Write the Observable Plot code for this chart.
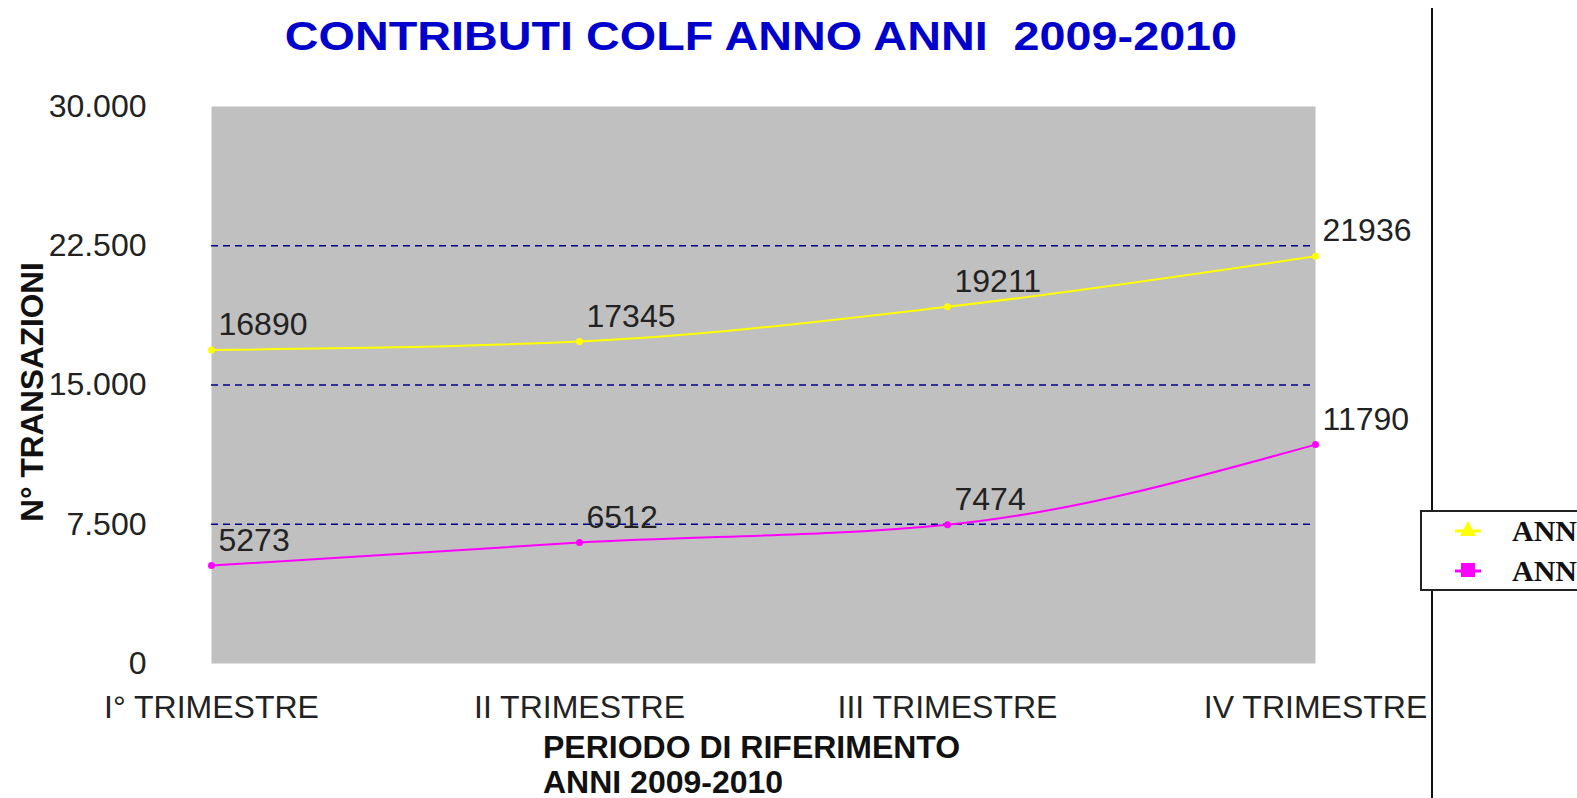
<!DOCTYPE html>
<html><head><meta charset="utf-8">
<script src="https://cdn.jsdelivr.net/npm/d3@7"></script>
<script src="https://cdn.jsdelivr.net/npm/@observablehq/plot@0.6"></script>
<style>
html,body{margin:0;padding:0;background:#fff;}
body{width:1577px;height:798px;overflow:hidden;position:relative;font-family:"Liberation Sans",Arial,sans-serif;}
#chart{position:absolute;left:0;top:0;}
#title{position:absolute;left:0;width:1522px;top:16px;text-align:center;font-weight:bold;font-size:41px;line-height:1;color:#0000cc;white-space:pre;transform:scaleX(1.14);transform-origin:761px 0;}
#ylabel{position:absolute;left:33px;top:392px;transform:translate(-50%,-50%) rotate(-90deg);font-weight:bold;font-size:31.5px;line-height:1;color:#111;white-space:nowrap;}
#xlabel{position:absolute;left:543px;top:730px;font-weight:bold;font-size:32px;line-height:35px;color:#111;}
#vline1{position:absolute;left:1431px;top:8px;width:2px;height:503px;background:#111;}
#vline2{position:absolute;left:1431px;top:590px;width:2px;height:210px;background:#111;}
#legend{position:absolute;left:1420px;top:510px;width:300px;height:77px;border:2px solid #222;background:#fff;}
.li{position:absolute;left:90px;font-family:"Liberation Serif","Times New Roman",serif;font-weight:bold;font-size:30px;line-height:1;color:#111;white-space:nowrap;}
</style></head><body>
<div id="chart"></div>
<div id="title"></div>
<div id="ylabel"></div>
<div id="xlabel"></div>
<div id="vline1"></div><div id="vline2"></div>
<div id="legend"></div>
<script>
const titleText = "CONTRIBUTI COLF ANNO ANNI  2009-2010";
const yTitle = "N° TRANSAZIONI";
const xTitleLines = ["PERIODO DI RIFERIMENTO", "ANNI 2009-2010"];
const periods = ["I° TRIMESTRE", "II TRIMESTRE", "III TRIMESTRE", "IV TRIMESTRE"];
const seriesNames = ["ANNO 2010", "ANNO 2009"];
const seriesColors = ["#ffff00", "#ff00ff"];
const valuesA = [16890, 17345, 19211, 21936];
const valuesB = [5273, 6512, 7474, 11790];
const yTicks = [0, 7500, 15000, 22500, 30000];
const gridTicks = [7500, 15000, 22500];

const data = [];
periods.forEach((p, i) => data.push({period: p, value: valuesA[i], series: seriesNames[0]}));
periods.forEach((p, i) => data.push({period: p, value: valuesB[i], series: seriesNames[1]}));

const itFmt = v => d3.format(",")(v).replace(/,/g, ".");

const chart = Plot.plot({
  width: 1577, height: 798,
  marginLeft: 211, marginRight: 262, marginTop: 106, marginBottom: 135,
  style: {background: "transparent", fontFamily: "'Liberation Sans', Arial, sans-serif", fontSize: "32px", color: "#222"},
  x: {type: "point", domain: periods, padding: 0, label: null},
  y: {domain: [0, 30000], label: null},
  color: {domain: seriesNames, range: seriesColors},
  marks: [
    Plot.frame({fill: "#c0c0c0", stroke: "none"}),
    Plot.ruleY(gridTicks, {stroke: "#00008b", strokeDasharray: "7,5", strokeWidth: 1.5}),
    Plot.axisY(yTicks, {tickSize: 0, tickPadding: 65, tickFormat: itFmt, fill: "#222", fontSize: 32, label: null}),
    Plot.axisX({tickSize: 0, tickPadding: 32, fill: "#222", fontSize: 32, label: null}),
    Plot.line(data, {x: "period", y: "value", z: "series", stroke: "series", strokeWidth: 2, curve: "monotone-x"}),
    Plot.dot(data, {x: "period", y: "value", fill: "series", r: 3.5}),
    Plot.text(data, {x: "period", y: "value", text: d => String(d.value), textAnchor: "start", dx: 7, dy: -25, fill: "#222", fontSize: 32})
  ]
});
document.getElementById("chart").appendChild(chart);

document.getElementById("title").textContent = titleText;
document.getElementById("ylabel").textContent = yTitle;
document.getElementById("xlabel").innerHTML = xTitleLines.map(s => "<div>" + s + "</div>").join("");

// legend
const lg = document.getElementById("legend");
const ns = "http://www.w3.org/2000/svg";
const sv = document.createElementNS(ns, "svg");
sv.setAttribute("width", 80); sv.setAttribute("height", 77);
sv.style.position = "absolute"; sv.style.left = "0"; sv.style.top = "0";
const rows = [18, 58];
rows.forEach((cy, i) => {
  const ln = document.createElementNS(ns, "line");
  ln.setAttribute("x1", 33); ln.setAttribute("x2", 59); ln.setAttribute("y1", cy + 1); ln.setAttribute("y2", cy + 1);
  ln.setAttribute("stroke", seriesColors[i]); ln.setAttribute("stroke-width", 3);
  sv.appendChild(ln);
  let m;
  if (i === 0) {
    m = document.createElementNS(ns, "path");
    m.setAttribute("d", `M46,${cy-9}L54,${cy+6}L38,${cy+6}Z`);
  } else {
    m = document.createElementNS(ns, "rect");
    m.setAttribute("x", 39); m.setAttribute("y", cy - 7); m.setAttribute("width", 14); m.setAttribute("height", 14);
  }
  m.setAttribute("fill", seriesColors[i]);
  sv.appendChild(m);
  const t = document.createElement("div");
  t.className = "li"; t.style.top = (cy - 14) + "px"; t.textContent = seriesNames[i];
  lg.appendChild(t);
});
lg.appendChild(sv);
</script>
</body></html>
